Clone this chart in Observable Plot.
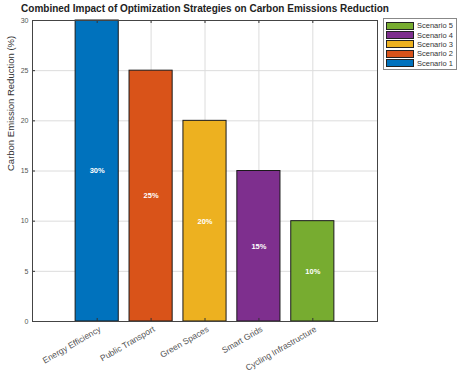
<!DOCTYPE html>
<html><head><meta charset="utf-8">
<script src="https://cdn.jsdelivr.net/npm/d3@7"></script>
<script src="https://cdn.jsdelivr.net/npm/@observablehq/plot@0.6"></script>
<style>
body{margin:0;background:#fff;font-family:"Liberation Sans",Arial,sans-serif;}
#wrap{position:relative;width:464px;height:378px;}
#title{position:absolute;left:0;width:410px;top:3px;text-align:center;font-weight:bold;font-size:10px;color:#222;white-space:nowrap;}
#legend{position:absolute;left:383px;top:18px;width:72px;border:1px solid #888;background:#fff;padding:2px 0 1px 0;}
.row{display:flex;align-items:center;height:9.4px;}
.sw{width:26px;height:6px;border:1px solid #222;margin-left:2px;margin-right:3px;}
.lt{font-size:7.5px;color:#333;}
</style></head>
<body><div id="wrap"><div id="chart"></div><div id="title"></div><div id="legend"></div></div>
<script>
const categories = ["Energy Efficiency","Public Transport","Green Spaces","Smart Grids","Cycling Infrastructure"];
const values = [30, 25, 20, 15, 10];
const scenarios = ["Scenario 1","Scenario 2","Scenario 3","Scenario 4","Scenario 5"];
const colors = ["#0072BD","#D95319","#EDB120","#7E2F8E","#77AC30"];
const yTicks = [0,5,10,15,20,25,30];
const titleText = "Combined Impact of Optimization Strategies on Carbon Emissions Reduction";
const yLabel = "Carbon Emission Reduction (%)";

const data = categories.map((c,i)=>({pos:i+1, cat:c, v:values[i], color:colors[i]}));
const xDomain = [-0.2, 6.2];
const tickLen = 3 * (xDomain[1]-xDomain[0]) / 345;

const plot = Plot.plot({
  width: 464, height: 378,
  marginLeft: 32, marginRight: 87, marginTop: 20, marginBottom: 57,
  style: {fontFamily: '"Liberation Sans", Arial, sans-serif', background: "#fff"},
  x: {type: "linear", domain: xDomain},
  y: {domain: [0, 30]},
  marks: [
    Plot.gridY(yTicks, {stroke: "#dcdcdc", strokeOpacity: 1}),
    Plot.gridX(data.map(d=>d.pos), {stroke: "#dcdcdc", strokeOpacity: 1}),
    Plot.rectY(data, {x1: d=>d.pos-0.4, x2: d=>d.pos+0.4, y1: 0, y2: "v", fill: "color", stroke: "#1a1a1a", strokeWidth: 1}),
    Plot.ruleY(yTicks, {x1: xDomain[0], x2: xDomain[0]+tickLen, stroke: "#333"}),
    Plot.ruleX(data.map(d=>d.pos), {y1: 0, y2: 0.3, stroke: "#333"}),
    Plot.ruleX(data.map(d=>d.pos), {y1: 30, y2: 29.7, stroke: "#333"}),
    Plot.frame({stroke: "#444"}),
    Plot.text(data, {x: "pos", y: d=>d.v/2, text: d=>d.v+"%", fill: "white", fontWeight: "bold", fontSize: 7.5}),
    Plot.axisY(yTicks, {tickSize: 0, tickPadding: 4, fontSize: 7, color: "#555", label: null}),
    Plot.axisX(data.map(d=>d.pos), {tickFormat: i=>categories[i-1], tickRotate: -30, tickSize: 0, tickPadding: 7, dx: 3, fontSize: 8.5, color: "#555", label: null}),
    Plot.text([yLabel], {frameAnchor: "left", dx: -22, rotate: -90, fontSize: 9.5, fill: "#333"})
  ]
});
document.getElementById("chart").appendChild(plot);
document.getElementById("title").textContent = titleText;
const leg = document.getElementById("legend");
for (let i = scenarios.length-1; i >= 0; i--) {
  const r = document.createElement("div"); r.className = "row";
  r.innerHTML = `<div class="sw" style="background:${colors[i]}"></div><span class="lt">${scenarios[i]}</span>`;
  leg.appendChild(r);
}
</script></body></html>
